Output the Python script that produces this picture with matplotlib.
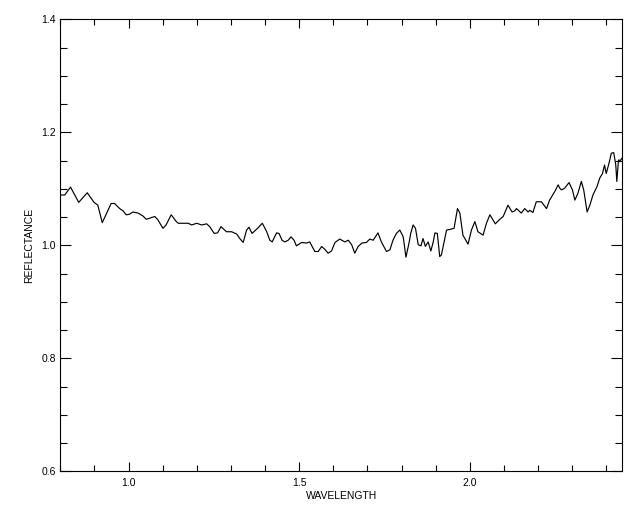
import matplotlib
matplotlib.use("Agg")
import matplotlib.pyplot as plt
from matplotlib.ticker import MultipleLocator, FormatStrFormatter

wavelength = [
    0.803, 0.813, 0.830, 0.854, 0.879, 0.899, 0.910, 0.923, 0.949, 0.959,
    0.974, 0.984, 0.993, 1.003, 1.013, 1.028, 1.042, 1.052, 1.062, 1.077,
    1.086, 1.101, 1.110, 1.125, 1.140, 1.146, 1.160, 1.175, 1.185, 1.200,
    1.214, 1.229, 1.238, 1.251, 1.261, 1.271, 1.287, 1.302, 1.317, 1.326,
    1.336, 1.346, 1.353, 1.362, 1.378, 1.392, 1.405, 1.414, 1.421, 1.434,
    1.441, 1.450, 1.458, 1.468, 1.476, 1.485, 1.492, 1.507, 1.522, 1.531,
    1.546, 1.556, 1.566, 1.575, 1.585, 1.595, 1.605, 1.619, 1.634, 1.644,
    1.654, 1.663, 1.673, 1.684, 1.697, 1.707, 1.717, 1.731, 1.741, 1.756,
    1.766, 1.775, 1.785, 1.795, 1.805, 1.813, 1.822, 1.827, 1.834, 1.841,
    1.849, 1.857, 1.863, 1.870, 1.878, 1.886, 1.893, 1.898, 1.905, 1.912,
    1.917, 1.925, 1.932, 1.941, 1.954, 1.964, 1.971, 1.980, 1.995, 2.005,
    2.015, 2.024, 2.039, 2.049, 2.059, 2.065, 2.075, 2.088, 2.098, 2.112,
    2.124, 2.132, 2.137, 2.151, 2.161, 2.171, 2.176, 2.185, 2.195, 2.210,
    2.225, 2.234, 2.249, 2.259, 2.264, 2.269, 2.278, 2.291, 2.301, 2.308,
    2.317, 2.327, 2.334, 2.344, 2.352, 2.361, 2.373, 2.381, 2.389, 2.395,
    2.400, 2.408, 2.415, 2.422, 2.428, 2.431, 2.436, 2.441, 2.446,
]
reflectance = [
    1.089, 1.089, 1.103, 1.076, 1.093, 1.076, 1.071, 1.040, 1.074, 1.074,
    1.065, 1.061, 1.054, 1.055, 1.059, 1.057, 1.052, 1.046, 1.048, 1.051,
    1.045, 1.030, 1.036, 1.054, 1.042, 1.039, 1.039, 1.039, 1.036, 1.039,
    1.036, 1.038, 1.033, 1.021, 1.022, 1.033, 1.024, 1.024, 1.020, 1.012,
    1.005, 1.027, 1.032, 1.021, 1.030, 1.039, 1.024, 1.009, 1.006, 1.022,
    1.021, 1.009, 1.006, 1.009, 1.015, 1.009, 0.999, 1.005, 1.004, 1.006,
    0.989, 0.989, 0.998, 0.993, 0.986, 0.990, 1.005, 1.011, 1.006, 1.009,
    1.001, 0.986, 0.998, 1.004, 1.005, 1.011, 1.009, 1.022, 1.006, 0.989,
    0.992, 1.009, 1.021, 1.027, 1.015, 0.979, 1.004, 1.021, 1.036, 1.030,
    1.001, 0.999, 1.012, 0.998, 1.006, 0.990, 1.006, 1.022, 1.021, 0.980,
    0.983, 1.006, 1.027, 1.028, 1.030, 1.065, 1.057, 1.018, 1.002, 1.027,
    1.042, 1.024, 1.018, 1.039, 1.054, 1.048, 1.038, 1.046, 1.051, 1.071,
    1.059, 1.061, 1.065, 1.057, 1.065, 1.059, 1.062, 1.058, 1.077, 1.077,
    1.065, 1.080, 1.095, 1.107, 1.101, 1.098, 1.101, 1.111, 1.098, 1.080,
    1.092, 1.113, 1.098, 1.059, 1.071, 1.089, 1.104, 1.119, 1.127, 1.142,
    1.127, 1.145, 1.163, 1.164, 1.142, 1.113, 1.151, 1.150, 1.154,
]

x_range = (0.8, 2.447)
y_range = (0.6, 1.4)

plt.rcParams['font.family'] = ['Liberation Sans', 'DejaVu Sans']

fig = plt.figure(figsize=(6.4, 5.12), dpi=100)
ax = fig.add_axes([0.0942, 0.0795, 0.9723 - 0.0942, 0.9623 - 0.0795])
ax.plot(wavelength, reflectance, color='black', lw=0.85)
ax.set_xlim(*x_range)
ax.set_ylim(*y_range)

ax.xaxis.set_major_locator(MultipleLocator(0.5))
ax.xaxis.set_minor_locator(MultipleLocator(0.1))
ax.yaxis.set_major_locator(MultipleLocator(0.2))
ax.yaxis.set_minor_locator(MultipleLocator(0.05))
ax.xaxis.set_major_formatter(FormatStrFormatter('%.1f'))
ax.yaxis.set_major_formatter(FormatStrFormatter('%.1f'))

ax.tick_params(axis='x', which='major', direction='in', length=6.7, width=0.8,
               top=True, bottom=True, labelsize=7.5, pad=5)
ax.tick_params(axis='x', which='minor', direction='in', length=4.2, width=0.8,
               top=True, bottom=True)
ax.tick_params(axis='y', which='major', direction='in', length=8.1, width=0.8,
               left=True, right=True, labelsize=7.5, pad=3)
ax.tick_params(axis='y', which='minor', direction='in', length=5.0, width=0.8,
               left=True, right=True)
for s in ax.spines.values():
    s.set_linewidth(0.8)

ax.set_xlabel('WAVELENGTH', fontsize=7.5, labelpad=2)
ax.set_ylabel('REFLECTANCE', fontsize=7.5, labelpad=5)

fig.savefig('out.png', dpi=100)
